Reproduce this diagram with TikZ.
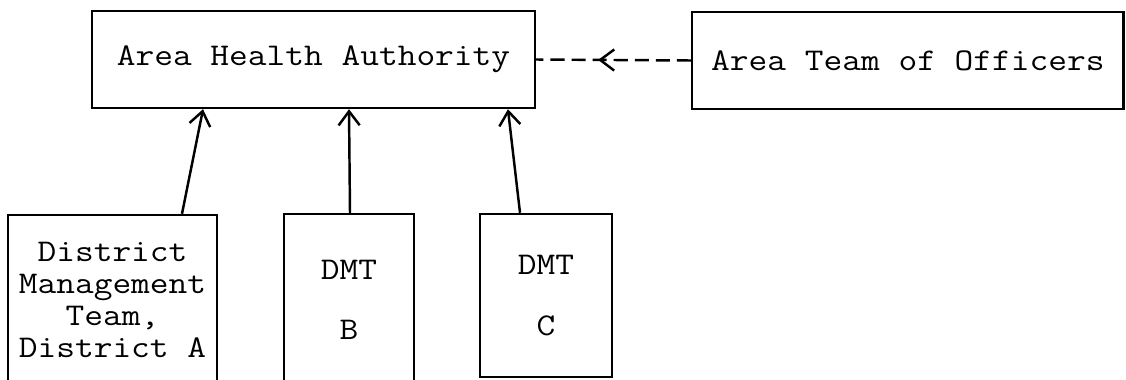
\documentclass[tikz,border=0pt]{standalone}
\usepackage{fontspec}
\setmonofont[FakeStretch=1.15]{Latin Modern Mono}
\usepackage{tikz}
\usetikzlibrary{positioning}
\usetikzlibrary{calc}
\usetikzlibrary{arrows.meta}
\usetikzlibrary{decorations.markings}
\tikzset{>={Straight Barb[length=8pt,width=12pt]}}
\tikzset{
  box/.style={draw, line width=1.4pt, inner sep=0pt, align=center,
    font=\ttfamily\fontsize{18}{18.3}\selectfont},
  link/.style={->, line width=1.4pt},
  dashlink/.style={line width=1.4pt, dash pattern=on 8pt off 4pt,
    postaction={decorate}, decoration={markings,
      mark=at position 0.6 with {\arrow[line width=1.4pt]{>}}}}
}

\begin{document}
\begin{tikzpicture}[x=0.02cm, y=-0.02cm]
\clip (0,0) rectangle (1126,379);

% ---------- Top row ----------
\node[box, minimum width=8.86cm, minimum height=1.94cm] (aha) at (313.5,59.5)
  {Area Health Authority};
\node[box, anchor=west, minimum height=1.94cm, inner xsep=0.38cm] (ato)
  at (691,60.5) {Area Team of Officers};

% ---------- District teams ----------
\node[box, minimum width=4.18cm, minimum height=3.4cm] (dmta) at (112.5,300)
  {District\\Management\\Team,\\District A};
\node[box, minimum width=2.6cm, minimum height=3.44cm] (dmtb) at (349,300)
  {DMT\\[16pt]B};
\node[box, minimum width=2.64cm, minimum height=3.26cm] (dmtc) at (546,295.5)
  {DMT\\[16pt]C};

% ---------- Arrows ----------
\draw[link] ([xshift=1.39cm]dmta.north) -- ([xshift=-2.21cm]aha.south);
\draw[link] ([xshift=0.02cm]dmtb.north) -- ([xshift=0.71cm]aha.south);
\draw[link] ([xshift=-0.52cm]dmtc.north) -- ([xshift=3.89cm]aha.south);
\draw[dashlink] (ato.west) -- (aha.east);

\end{tikzpicture}
\end{document}
